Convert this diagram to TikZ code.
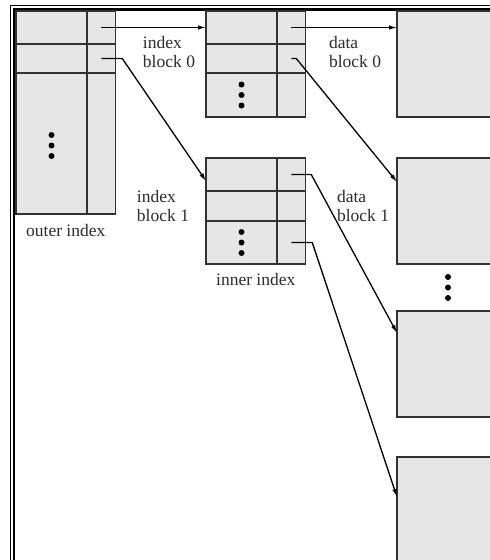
\documentclass[tikz,border=0pt]{standalone}
\usepackage{fontspec}
\setmainfont{Liberation Serif}
\usepackage{tikz}
\usetikzlibrary{positioning,arrows.meta,calc}
\definecolor{cellgray}{RGB}{230,230,230}
\definecolor{linegray}{RGB}{50,50,50}
\definecolor{textgray}{RGB}{45,45,45}

\begin{document}
\begin{tikzpicture}[x=1pt,y=1pt,>={Latex[length=8pt,width=4.5pt]},
  cell/.style={draw=linegray,fill=cellgray,line width=1.5pt,inner sep=0pt,outer sep=0pt},
  key/.style={cell,minimum width=71pt},
  ptr/.style={cell,minimum width=28.5pt},
  dblk/.style={cell,minimum width=110pt,minimum height=106pt},
  lbl/.style={font=\fontsize{17.5}{19}\selectfont,text=textgray,align=left,inner sep=0pt},
  ln/.style={line width=1.3pt,black}]
  \useasboundingbox (0,0) rectangle (490,-560);
  \clip (0,0) rectangle (490,-560);
  % frame
  \draw[line width=0.9pt] (10,-570) -- (10,-5) -- (500,-5);
  \draw[line width=2.6pt] (14,-570) -- (14,-9.5) -- (500,-9.5);
  % outer index
  \node[key,minimum height=33pt,anchor=north west] (o0k) at (16,-11) {};
  \node[ptr,minimum height=33pt,right=0pt of o0k] (o0p) {};
  \node[key,minimum height=29pt,below=0pt of o0k] (o1k) {};
  \node[ptr,minimum height=29pt,right=0pt of o1k] (o1p) {};
  \node[key,minimum height=141pt,below=0pt of o1k] (o2k) {};
  \node[ptr,minimum height=141pt,right=0pt of o2k] (o2p) {};
  % index block 0
  \node[key,minimum height=33pt,anchor=north west] (i00k) at (206,-11) {};
  \node[ptr,minimum height=33pt,right=0pt of i00k] (i00p) {};
  \node[key,minimum height=29pt,below=0pt of i00k] (i01k) {};
  \node[ptr,minimum height=29pt,right=0pt of i01k] (i01p) {};
  \node[key,minimum height=44pt,below=0pt of i01k] (i02k) {};
  \node[ptr,minimum height=44pt,right=0pt of i02k] (i02p) {};
  % index block 1
  \node[key,minimum height=33pt,anchor=north west] (i10k) at (206,-158) {};
  \node[ptr,minimum height=33pt,right=0pt of i10k] (i10p) {};
  \node[key,minimum height=30pt,below=0pt of i10k] (i11k) {};
  \node[ptr,minimum height=30pt,right=0pt of i11k] (i11p) {};
  \node[key,minimum height=43pt,below=0pt of i11k] (i12k) {};
  \node[ptr,minimum height=43pt,right=0pt of i12k] (i12p) {};
  % data blocks
  \node[dblk,anchor=north west] (d0) at (397,-11) {};
  \node[dblk,anchor=north west] (d1) at (397,-158) {};
  \node[dblk,anchor=north west] (d2) at (397,-311) {};
  \node[dblk,anchor=north west] (d3) at (397,-457) {};
  \coordinate (gap) at ($(d1.south west)!0.5!(d2.north west)+(51,0)$);
  % dots
  \foreach \d in {-10.5,0,10.5} {
    \fill ($(o2k.center)+(0,\d-2)$) circle (3pt);
    \fill ($(i02k.center)+(0,\d)$) circle (3pt);
    \fill ($(i12k.center)+(0,\d)$) circle (3pt);
    \fill ($(gap)+(0,\d)$) circle (3pt);
  }
  % labels
  \node[lbl] (ib0lbl) at (169,-52) {index\\block 0};
  \node[lbl] (db0lbl) at (355,-52) {data\\block 0};
  \node[lbl] (ib1lbl) at (163,-206) {index\\block 1};
  \node[lbl] (db1lbl) at (363,-206) {data\\block 1};
  \node[lbl,anchor=north] (outerlbl) at ($(o2k.south west)!0.5!(o2p.south east)+(0,-10)$) {outer index};
  \node[lbl,anchor=north] (innerlbl) at ($(i12k.south west)!0.5!(i12p.south east)+(0,-9)$) {inner index};
  % pointers
  \draw[ln,->] (o0p.center) -- (o0p.center -| i00k.west);
  \draw[ln,->] (o1p.center) -- ++(21,0) -- ($(i10k.north west)+(0,-23)$);
  \draw[ln,->] (i00p.center) -- (i00p.center -| d0.west);
  \draw[ln,->] (i01p.center) -- ++(5,0) -- ($(d1.north west)+(0,-24)$);
  \draw[ln,->] (i10p.center) -- ++(20,0) -- ($(d2.north west)+(0,-22)$);
  \draw[ln,->] (i12p.center) -- ++(21,0) -- ($(d3.north west)+(0,-40)$);
\end{tikzpicture}
\end{document}
